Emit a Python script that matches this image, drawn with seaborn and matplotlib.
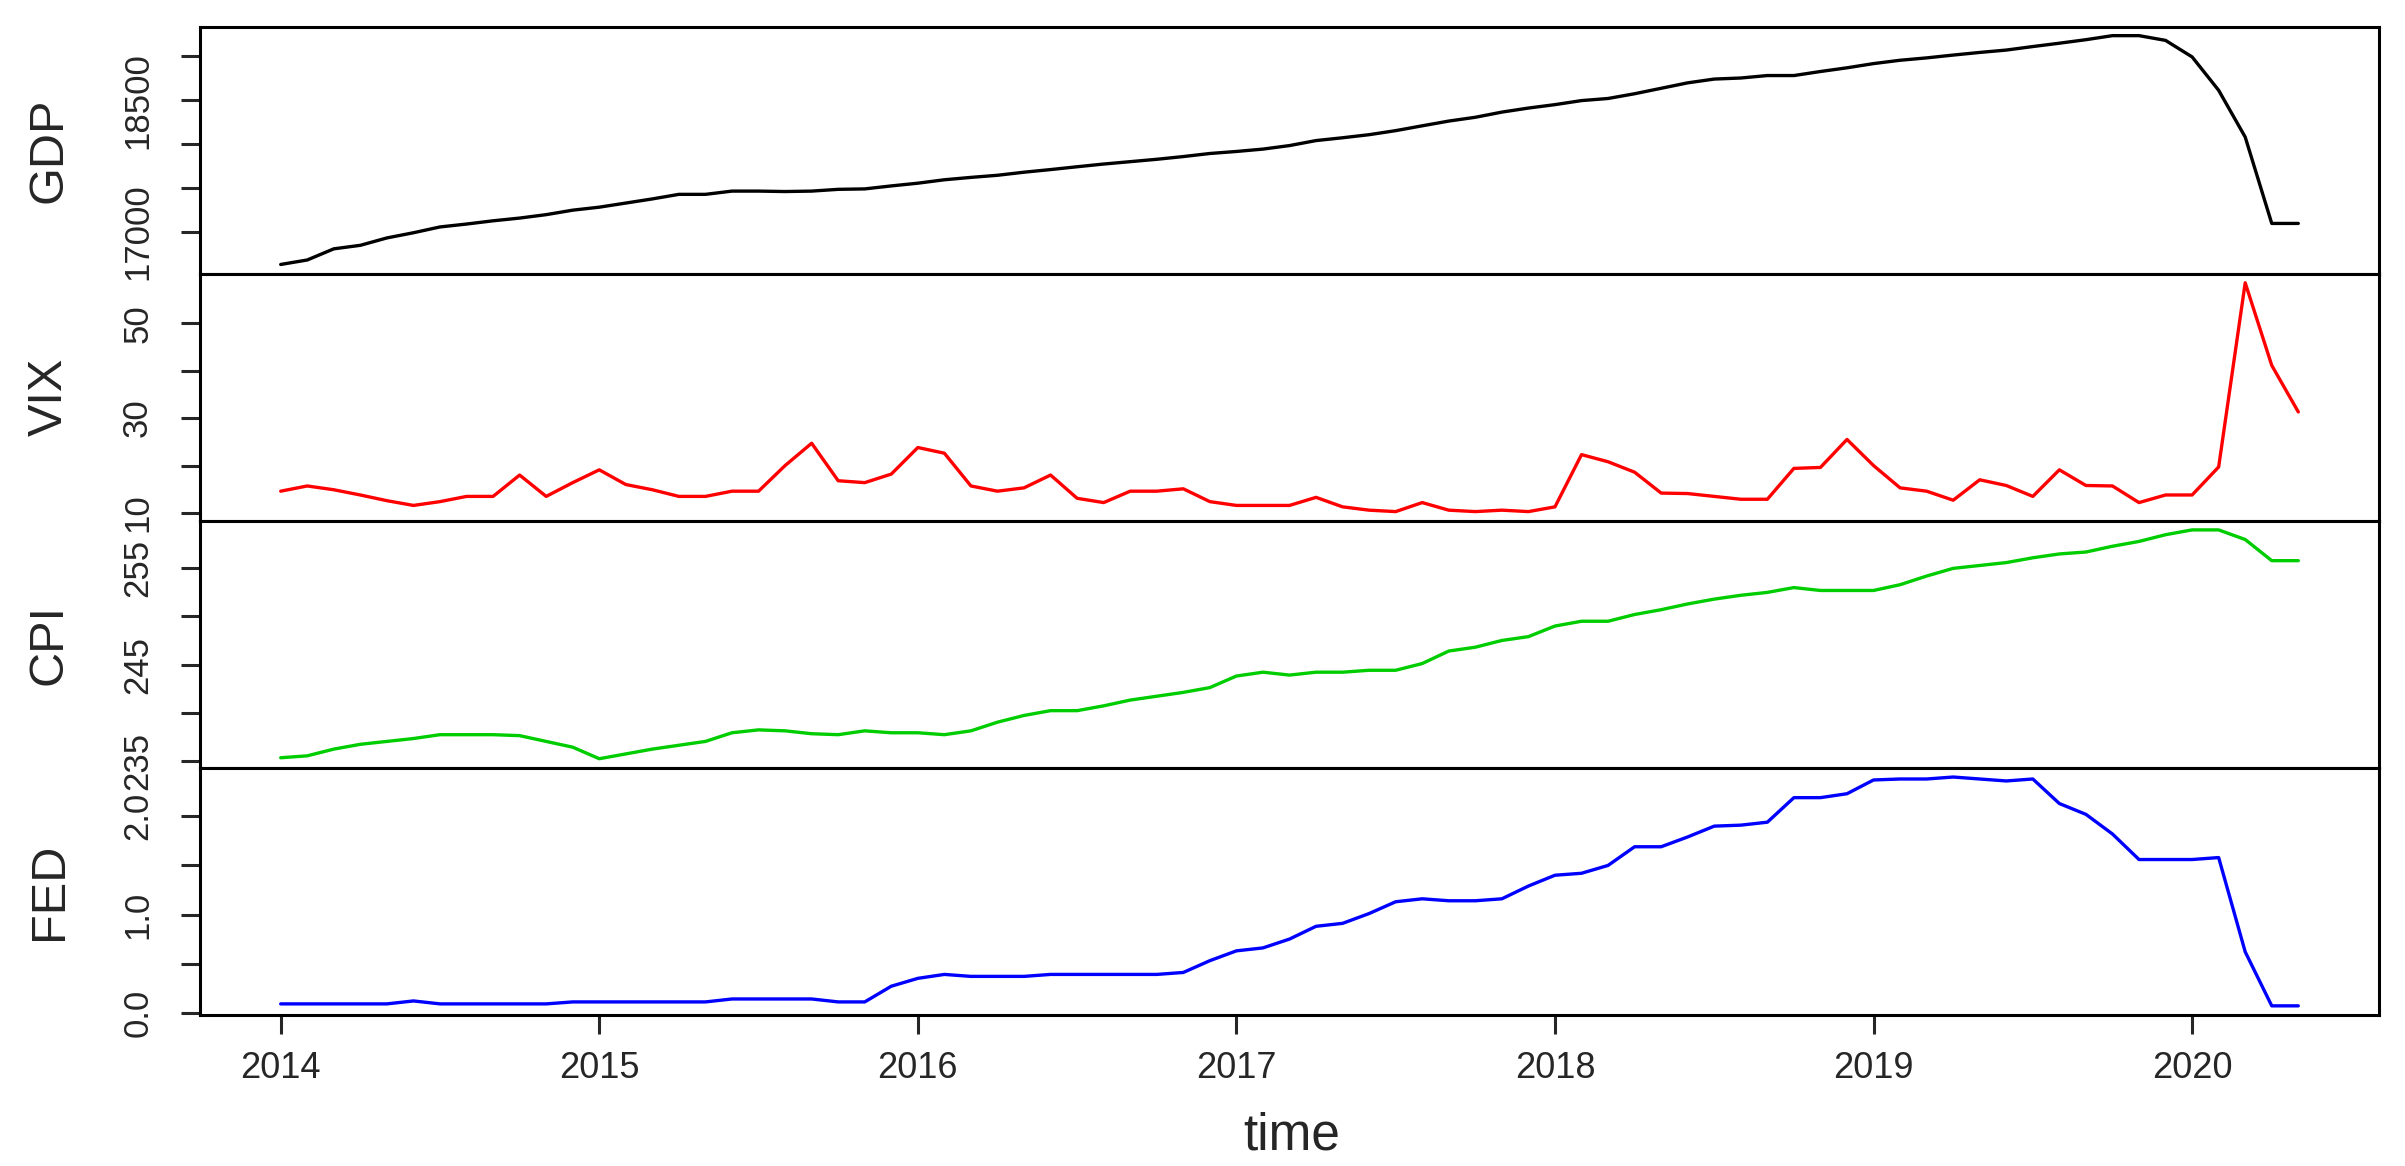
import numpy as np
import pandas as pd
import matplotlib
matplotlib.use("Agg")
import matplotlib.pyplot as plt
import seaborn as sns

months = pd.date_range("2014-01-01", "2020-05-01", freq="MS")

gdp = [16630, 16681, 16808, 16848, 16932, 16991, 17057, 17090, 17127, 17158, 17197, 17248,
       17282, 17329, 17376, 17428, 17428, 17465, 17465, 17460, 17465, 17485, 17490, 17524,
       17555, 17594, 17621, 17645, 17680, 17710, 17742, 17773, 17800, 17827, 17858, 17893,
       17916, 17943, 17983, 18040, 18072, 18107, 18153, 18208, 18262, 18305, 18364, 18410,
       18449, 18495, 18519, 18573, 18635, 18697, 18740, 18752, 18780, 18780, 18826, 18868,
       18916, 18954, 18981, 19013, 19043, 19070, 19110, 19148, 19188, 19234, 19234, 19180,
       18992, 18612, 18080, 17097, 17097]

vix = [14.6, 15.7, 14.9, 13.8, 12.6, 11.6, 12.4, 13.5, 13.5, 18.0, 13.5, 16.4,
       19.1, 16.0, 14.9, 13.5, 13.5, 14.6, 14.6, 20.0, 24.7, 16.8, 16.4, 18.2,
       23.8, 22.6, 15.7, 14.6, 15.3, 18.0, 13.1, 12.2, 14.6, 14.6, 15.1, 12.4,
       11.6, 11.6, 11.6, 13.3, 11.3, 10.6, 10.3, 12.2, 10.6, 10.3, 10.6, 10.3,
       11.3, 22.3, 20.8, 18.6, 14.2, 14.1, 13.5, 12.9, 12.9, 19.4, 19.6, 25.5,
       20.0, 15.3, 14.6, 12.7, 17.0, 15.8, 13.5, 19.1, 15.8, 15.7, 12.2, 13.8,
       13.8, 19.7, 58.5, 41.1, 31.3]

cpi = [235.3, 235.5, 236.2, 236.7, 237.0, 237.3, 237.7, 237.7, 237.7, 237.6, 237.0, 236.4,
       235.2, 235.7, 236.2, 236.6, 237.0, 237.9, 238.2, 238.1, 237.8, 237.7, 238.1, 237.9,
       237.9, 237.7, 238.1, 239.0, 239.7, 240.2, 240.2, 240.7, 241.3, 241.7, 242.1, 242.6,
       243.8, 244.2, 243.9, 244.2, 244.2, 244.4, 244.4, 245.1, 246.4, 246.8, 247.5, 247.9,
       249.0, 249.5, 249.5, 250.2, 250.7, 251.3, 251.8, 252.2, 252.5, 253.0, 252.7, 252.7,
       252.7, 253.3, 254.2, 255.0, 255.3, 255.6, 256.1, 256.5, 256.7, 257.3, 257.8, 258.5,
       259.0, 259.0, 258.0, 255.8, 255.8]

fed = [0.09, 0.09, 0.09, 0.09, 0.09, 0.12, 0.09, 0.09, 0.09, 0.09, 0.09, 0.11,
       0.11, 0.11, 0.11, 0.11, 0.11, 0.14, 0.14, 0.14, 0.14, 0.11, 0.11, 0.27,
       0.35, 0.39, 0.37, 0.37, 0.37, 0.39, 0.39, 0.39, 0.39, 0.39, 0.41, 0.53,
       0.63, 0.66, 0.75, 0.88, 0.91, 1.01, 1.13, 1.16, 1.14, 1.14, 1.16, 1.29,
       1.40, 1.42, 1.50, 1.69, 1.69, 1.79, 1.90, 1.91, 1.94, 2.19, 2.19, 2.23,
       2.37, 2.38, 2.38, 2.40, 2.38, 2.36, 2.38, 2.13, 2.02, 1.82, 1.56, 1.56,
       1.56, 1.58, 0.62, 0.07, 0.07]

series_names = ["GDP", "VIX", "CPI", "FED"]
series_colors = ["black", "#FF0000", "#00CD00", "#0000FF"]
y_ticks = [[17000, 17500, 18000, 18500, 19000],
           [10, 20, 30, 40, 50],
           [235, 240, 245, 250, 255],
           [0.0, 0.5, 1.0, 1.5, 2.0]]
y_tick_labels = [["17000", "", "", "18500", ""],
                 ["10", "", "30", "", "50"],
                 ["235", "", "245", "", "255"],
                 ["0.0", "", "1.0", "", "2.0"]]
year_ticks = [2014, 2015, 2016, 2017, 2018, 2019, 2020]

# ts-style decimal time axis
df = pd.DataFrame({"GDP": gdp, "VIX": vix, "CPI": cpi, "FED": fed})
df["time"] = months.year + (months.month - 1) / 12.0

sns.set_style("white")
plt.rcParams["font.family"] = ["Liberation Sans", "DejaVu Sans"]

W, H = 2405, 1166
fig, axes = plt.subplots(4, 1, figsize=(W / 100, H / 100), dpi=100, sharex=True)
fig.subplots_adjust(left=200 / W, right=2379 / W, top=1 - 26.5 / H,
                    bottom=1 - 1015 / H, hspace=0)

def r_range(lo, hi):
    # R's default 4% padding on each side
    pad = 0.04 * (hi - lo)
    return lo - pad, hi + pad

for ax, name, col, ticks, labels in zip(axes, series_names, series_colors,
                                        y_ticks, y_tick_labels):
    sns.lineplot(data=df, x="time", y=name, color=col, linewidth=2.4, ax=ax)
    ax.set_xlabel("")
    ax.set_ylabel("")
    ax.set_ylim(*r_range(df[name].min(), df[name].max()))
    ax.set_yticks(ticks)
    ax.set_yticklabels(labels)
    ax.tick_params(axis="y", direction="out", length=14, width=2.2, pad=19,
                   labelsize=25, labelrotation=90, left=True)
    for lab in ax.get_yticklabels():
        lab.set_va("center")
    ax.tick_params(axis="x", length=0)
    for sp in ax.spines.values():
        sp.set_visible(True)
        sp.set_linewidth(2.2)
        sp.set_color("black")
    # panel title on the left, like plot.ts
    box = ax.get_position()
    fig.text(0.0205, (box.y0 + box.y1) / 2, name, rotation=90,
             ha="center", va="center", fontsize=35)

ax = axes[-1]
ax.set_xlim(*r_range(df["time"].min(), df["time"].max()))
ax.set_xticks(year_ticks)
ax.set_xticklabels([str(y) for y in year_ticks])
ax.tick_params(axis="x", direction="out", length=14, width=2.2, pad=12,
               labelsize=26, bottom=True, labelbottom=True)

fig.text(0.537, 1 - 1150 / H, "time", ha="center", va="baseline", fontsize=37)

fig.savefig("out.png", dpi=100)
